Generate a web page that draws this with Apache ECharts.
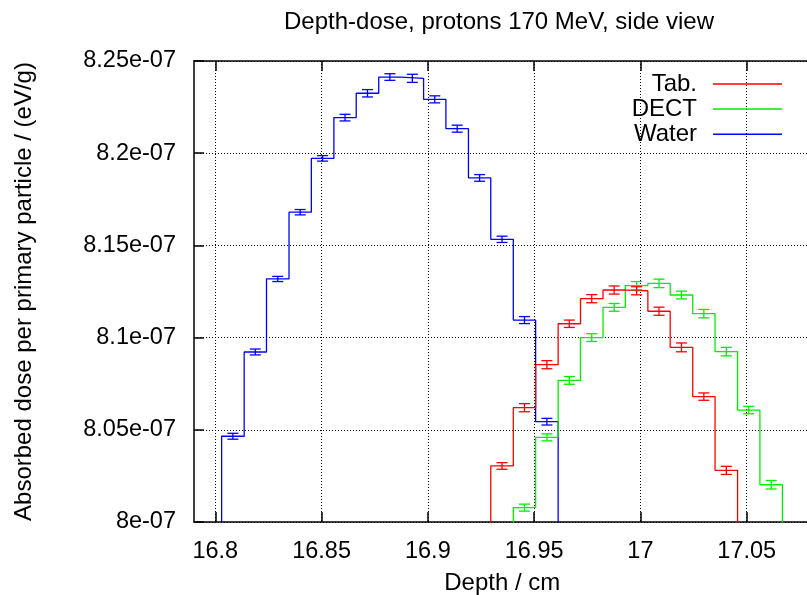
<!DOCTYPE html>
<html><head><meta charset="utf-8">
<script src="https://cdn.jsdelivr.net/npm/echarts@6/dist/echarts.min.js"></script>
<style>html,body{margin:0;padding:0;background:#fff}#c{width:807px;height:595px}</style>
</head><body><div id="c"></div>
<script>
// Bin edges (cm)
const binEdges = [16.8030, 16.8136, 16.8241, 16.8347, 16.8452, 16.8558, 16.8663, 16.8769, 16.8874,
  16.8980, 16.9085, 16.9191, 16.9296, 16.9402, 16.9507, 16.9613, 16.9718, 16.9824, 16.9929,
  17.0035, 17.0140, 17.0246, 17.0351, 17.0457, 17.0562, 17.0668];

// Water: bins 0..14
const waterStart = 0;
const waterDose = [8.0465e-7, 8.0922e-7, 8.1318e-7, 8.1680e-7, 8.1972e-7, 8.2193e-7, 8.2325e-7, 8.2413e-7,
  8.2406e-7, 8.2292e-7, 8.2133e-7, 8.1866e-7, 8.1533e-7, 8.1095e-7, 8.0544e-7];
const waterErr = [1.6e-10, 1.6e-10, 1.4e-10, 1.45e-10, 1.5e-10, 1.8e-10, 2.0e-10, 1.8e-10,
  2.2e-10, 1.9e-10, 1.9e-10, 1.8e-10, 1.7e-10, 1.9e-10, 1.8e-10];

// Tab.: bins 12..22
const tabStart = 12;
const tabDose = [8.0304e-7, 8.0620e-7, 8.0853e-7, 8.1075e-7, 8.1211e-7, 8.1258e-7, 8.1254e-7,
  8.1143e-7, 8.0947e-7, 8.0680e-7, 8.0280e-7];
const tabErr = [1.8e-10, 2.2e-10, 2.2e-10, 2.0e-10, 2.2e-10, 2.2e-10, 2.2e-10, 2.2e-10, 2.4e-10, 2.0e-10, 2.2e-10];

// DECT: bins 13..24
const dectStart = 13;
const dectDose = [8.0078e-7, 8.0459e-7, 8.0768e-7, 8.1000e-7, 8.1164e-7, 8.1282e-7, 8.1294e-7,
  8.1231e-7, 8.1130e-7, 8.0924e-7, 8.0607e-7, 8.0202e-7];
const dectErr = [1.9e-10, 1.9e-10, 2.1e-10, 2.1e-10, 2.1e-10, 2.2e-10, 2.3e-10, 2.1e-10, 2.3e-10, 2.3e-10, 2.0e-10, 2.3e-10];

const xTicks = [16.8, 16.85, 16.9, 16.95, 17, 17.05];
const yMin = 8e-7, yMax = 8.25e-7, yStep = 5e-9;

const FONT = 'Liberation Sans';
const FS = 24, FT = 23.5;

function stepLine(start, vals) {
  const below = yMin - 1e-8;
  const pts = [[binEdges[start], below]];
  vals.forEach((v, i) => { pts.push([binEdges[start + i], v]); pts.push([binEdges[start + i + 1], v]); });
  pts.push([binEdges[start + vals.length], below]);
  return pts;
}
function errData(start, vals, errs) {
  return vals.map((v, i) => [(binEdges[start + i] + binEdges[start + i + 1]) / 2, v - errs[i], v + errs[i]]);
}
function errSeries(color, data) {
  return {
    type: 'custom', data: data, silent: true, z: 3,
    encode: { x: 0, y: [1, 2] },
    renderItem: function (params, api) {
      const x = api.value(0);
      const a = api.coord([x, api.value(1)]);
      const b = api.coord([x, api.value(2)]);
      const hw = 5.5;
      const st = { stroke: color, lineWidth: 1.3 };
      return { type: 'group', children: [
        { type: 'line', shape: { x1: a[0], y1: a[1], x2: b[0], y2: b[1] }, style: st },
        { type: 'line', shape: { x1: a[0] - hw, y1: a[1], x2: a[0] + hw, y2: a[1] }, style: st },
        { type: 'line', shape: { x1: b[0] - hw, y1: b[1], x2: b[0] + hw, y2: b[1] }, style: st }
      ]};
    }
  };
}
function lineSeries(name, color, data, z) {
  return { name: name, type: 'line', data: data, symbol: 'none', z: z, clip: true,
    lineStyle: { color: color, width: 1.3 }, itemStyle: { color: color }, animation: false };
}

const RED = '#ff0000', GREEN = '#00ee00', BLUE = '#0000ff';

const chart = echarts.init(document.getElementById('c'), null, { renderer: 'canvas' });
chart.setOption({
  animation: false,
  backgroundColor: '#fff',
  textStyle: { fontFamily: FONT },
  title: { text: 'Depth-dose, protons 170 MeV, side view', left: 284, top: 10, padding: 0,
    textStyle: { fontFamily: FONT, fontSize: FS, fontWeight: 'normal', color: '#000' } },
  legend: {
    data: ['Tab.', 'DECT', 'Water'], orient: 'vertical', align: 'right',
    right: 25, top: 72, padding: 0, itemWidth: 69, itemHeight: 1.5, itemGap: 1.1,
    icon: 'rect', selectedMode: false,
    textStyle: { fontFamily: FONT, fontSize: FS, color: '#000', padding: [0, 11, 0, 0] }
  },
  grid: { left: 194, top: 61, width: 616.5, height: 461, containLabel: false, outerBoundsMode: 'none' },
  xAxis: [{
    type: 'value', min: 16.79, max: 17.08, position: 'bottom',
    name: 'Depth / cm', nameLocation: 'middle', nameGap: 49,
    nameTextStyle: { fontFamily: FONT, fontSize: FS, color: '#000' },
    axisLine: { show: true, onZero: false, lineStyle: { color: '#000', width: 1.5 } },
    axisTick: { show: true, inside: true, length: 10, customValues: xTicks, lineStyle: { color: '#000', width: 1.5 } },
    axisLabel: { customValues: xTicks, fontFamily: FONT, fontSize: FT, color: '#000', margin: 18 },
    splitLine: { show: true, lineStyle: { color: '#000', type: [1, 2], width: 1 } }
  }, {
    type: 'value', min: 16.79, max: 17.08, position: 'top',
    axisLine: { show: true, onZero: false, lineStyle: { color: '#000', width: 1.5 } },
    axisTick: { show: true, inside: true, length: 10, customValues: xTicks, lineStyle: { color: '#000', width: 1.5 } },
    axisLabel: { show: false, customValues: xTicks },
    splitLine: { show: false }
  }],
  yAxis: {
    type: 'value', min: yMin, max: yMax, interval: yStep,
    name: 'Absorbed dose per primary particle / (eV/g)', nameLocation: 'middle', nameGap: 158,
    nameTextStyle: { fontFamily: FONT, fontSize: FS, color: '#000' },
    axisLine: { show: true, onZero: false, lineStyle: { color: '#000', width: 1.5 } },
    axisTick: { show: true, inside: true, length: 10, lineStyle: { color: '#000', width: 1.5 } },
    axisLabel: { fontFamily: FONT, fontSize: FT, color: '#000', margin: 18,
      formatter: function (v) { return (Math.round(v * 1e9) / 100) + 'e-07'; } },
    splitLine: { show: true, lineStyle: { color: '#000', type: [1, 2], width: 1 } }
  },
  series: [
    lineSeries('Water', BLUE, stepLine(waterStart, waterDose), 2),
    lineSeries('DECT', GREEN, stepLine(dectStart, dectDose), 2),
    lineSeries('Tab.', RED, stepLine(tabStart, tabDose), 2),
    errSeries(BLUE, errData(waterStart, waterDose, waterErr)),
    errSeries(GREEN, errData(dectStart, dectDose, dectErr)),
    errSeries(RED, errData(tabStart, tabDose, tabErr))
  ]
});
</script>
</body></html>
